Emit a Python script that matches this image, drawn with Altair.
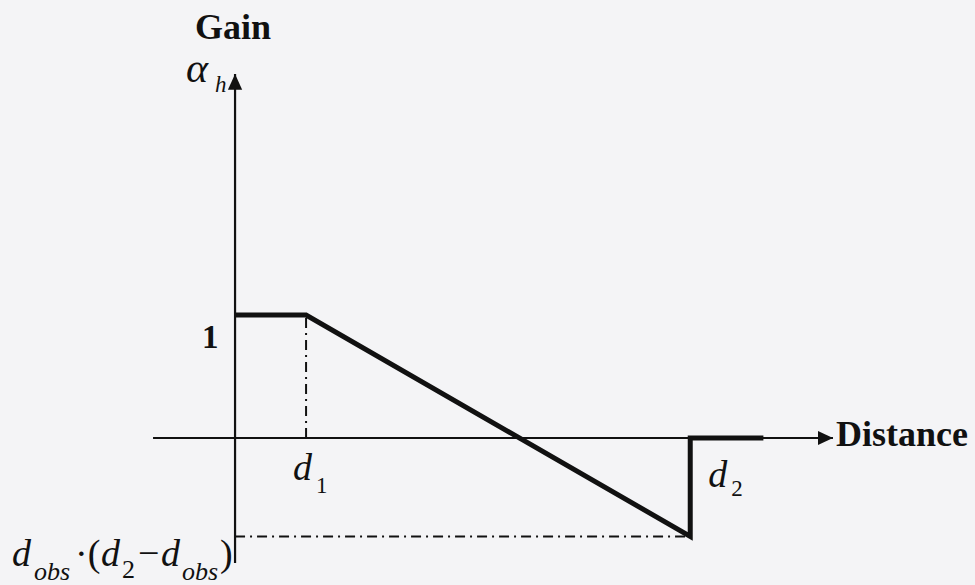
import altair as alt
import pandas as pd

# Gain profile (distance measured in units of d1)
d1 = 1.0
d2 = 6.41
gain_min = -0.8
profile_distance = [0.0, d1, d2, d2, 7.44]
profile_gain = [1.0, 1.0, gain_min, 0.0, 0.0]

# Extent of the two coordinate axes
x_axis_range = [-1.155, 8.42]
y_axis_range = [-1.016, 2.96]

X_DOMAIN = [-3.31, 10.42]
Y_DOMAIN = [-1.195, 3.561]

SERIF = "Liberation Serif"
INK = "#111111"
BG = "#f4f4f6"

xs = alt.Scale(domain=X_DOMAIN, nice=False, zero=False)
ys = alt.Scale(domain=Y_DOMAIN, nice=False, zero=False)


def X(f="x"):
    return alt.X(f"{f}:Q", scale=xs, axis=None)


def Y(f="y"):
    return alt.Y(f"{f}:Q", scale=ys, axis=None)


# Axes
axes_df = pd.DataFrame({
    "x": [x_axis_range[0], 0.0],
    "x2": [x_axis_range[1], 0.0],
    "y": [0.0, y_axis_range[0]],
    "y2": [0.0, y_axis_range[1]],
})
axes = alt.Chart(axes_df).mark_rule(color=INK, strokeWidth=2.2).encode(
    x=X(), x2="x2:Q", y=Y(), y2="y2:Q"
)

# Dash-dot guides to d1 and to the minimum gain
guides_df = pd.DataFrame({
    "x": [d1, 0.0],
    "x2": [d1, d2],
    "y": [0.0, gain_min],
    "y2": [1.0, gain_min],
})
guides = alt.Chart(guides_df).mark_rule(
    color=INK, strokeWidth=2, strokeDash=[10, 5, 2, 5]
).encode(x=X(), x2="x2:Q", y=Y(), y2="y2:Q")

# Arrow heads (tip of each path sits at the origin)
up_arrow = alt.Chart(pd.DataFrame({"x": [0.0], "y": [y_axis_range[1]]})).mark_point(
    shape="M0,0L0.45,1L-0.45,1Z", size=1000, filled=True, color=INK, opacity=1, strokeWidth=0
).encode(x=X(), y=Y())
right_arrow = alt.Chart(pd.DataFrame({"x": [x_axis_range[1]], "y": [0.0]})).mark_point(
    shape="M0,0L-1,-0.47L-1,0.47Z", size=900, filled=True, color=INK, opacity=1, strokeWidth=0
).encode(x=X(), y=Y())

# Gain curve
profile_df = pd.DataFrame({
    "distance": profile_distance,
    "gain": profile_gain,
    "order": list(range(len(profile_distance))),
})
curve = alt.Chart(profile_df).mark_line(
    color=INK, strokeWidth=5, strokeJoin="miter", strokeCap="butt"
).encode(x=X("distance"), y=Y("gain"), order="order:Q")


def label(text, x, y, dx, dy, size, weight="normal", style="normal", align="left"):
    return alt.Chart(pd.DataFrame({"x": [x], "y": [y], "t": [text]})).mark_text(
        font=SERIF, fontSize=size, fontWeight=weight, fontStyle=style,
        align=align, baseline="alphabetic", dx=dx, dy=dy, color=INK
    ).encode(x=X(), y=Y(), text="t:N")


ytop = y_axis_range[1]
xend = x_axis_range[1]
texts = [
    label("Gain", 0.0, ytop, -2, -35, 36, weight="bold", align="center"),
    label("\u03b1", 0.0, ytop, -49, 8, 42, style="italic"),
    label("h", 0.0, ytop, -20, 18, 23, style="italic"),
    label("1", 0.0, 1.0, -33, 33, 33, weight="bold"),
    label("d", d1, 0.0, -13, 42, 38, style="italic"),
    label("1", d1, 0.0, 10, 55, 23),
    label("d", d2, 0.0, 18, 49, 38, style="italic"),
    label("2", d2, 0.0, 41, 58, 23),
    label("Distance", xend, 0.0, 3, 8, 36, weight="bold"),
    # d_obs·(d_2 − d_obs)
    label("d", 0.0, gain_min, -223, 30, 38, style="italic"),
    label("obs", 0.0, gain_min, -201, 44, 26, style="italic"),
    label("\u00b7(", 0.0, gain_min, -160, 30, 38),
    label("d", 0.0, gain_min, -134, 30, 38, style="italic"),
    label("2", 0.0, gain_min, -113, 42, 26),
    label("\u2212", 0.0, gain_min, -97, 30, 38),
    label("d", 0.0, gain_min, -74, 30, 38, style="italic"),
    label("obs", 0.0, gain_min, -53, 44, 26, style="italic"),
    label(")", 0.0, gain_min, -15, 30, 38),
]

chart = alt.layer(axes, guides, curve, up_arrow, right_arrow, *texts).properties(
    width=975,
    height=585,
    background=BG,
    padding=0,
    autosize=alt.AutoSizeParams(type="none"),
).configure_view(stroke=None)

chart.save("out.html", embed_options={"renderer": "svg", "actions": False})
